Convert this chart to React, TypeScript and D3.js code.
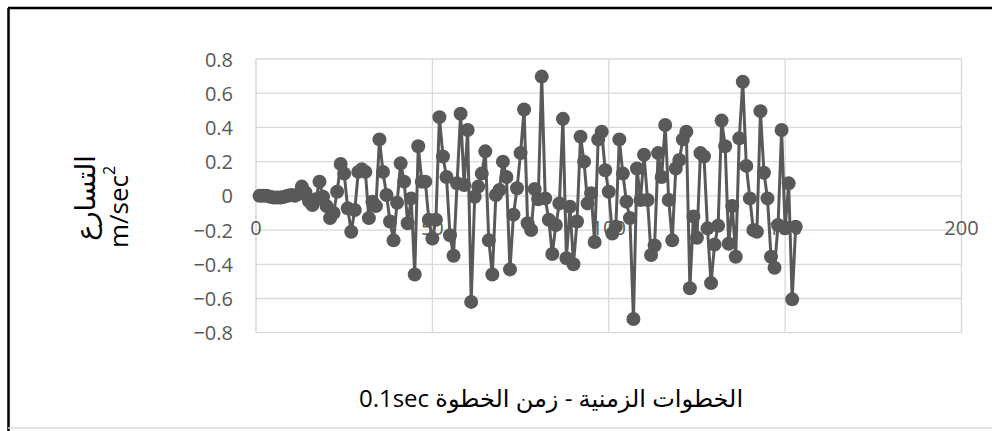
import React from "react";
import * as d3 from "d3";

// Acceleration per time step (m/sec²), one value per 0.1 sec step starting at step 1
const acceleration: number[] = [
  0, 0, 0, -0.005, -0.01, -0.01, -0.01, -0.005, 0, 0.005,
  0, 0.01, 0.054, 0.02, -0.03, -0.054, -0.02, 0.083, -0.005, -0.06,
  -0.13, -0.1, 0.024, 0.186, 0.13, -0.073, -0.21, -0.083, 0.14, 0.155,
  0.14, -0.13, -0.034, -0.06, 0.33, 0.14, 0.005, -0.15, -0.26, -0.04,
  0.19, 0.083, -0.16, -0.015, -0.46, 0.29, 0.083, 0.083, -0.14, -0.25,
  -0.14, 0.46, 0.23, 0.11, -0.23, -0.35, 0.073, 0.48, 0.063, 0.385,
  -0.62, -0.005, 0.054, 0.13, 0.26, -0.26, -0.46, 0.005, 0.034, 0.2,
  0.11, -0.43, -0.11, 0.044, 0.25, 0.505, -0.16, -0.2, 0.04, -0.02,
  0.697, -0.015, -0.14, -0.34, -0.17, -0.044, 0.45, -0.365, -0.063, -0.4,
  -0.15, 0.346, 0.2, -0.044, 0.015, -0.27, 0.33, 0.375, 0.15, 0.024,
  -0.22, -0.18, 0.33, 0.13, -0.034, -0.13, -0.72, 0.16, -0.024, 0.24,
  -0.024, -0.346, -0.29, 0.25, 0.11, 0.414, -0.024, -0.26, 0.16, 0.21,
  0.33, 0.375, -0.54, -0.12, -0.245, 0.25, 0.23, -0.19, -0.51, -0.285,
  -0.175, 0.44, 0.29, -0.28, -0.06, -0.356, 0.336, 0.667, 0.175, -0.015,
  -0.2, -0.21, 0.495, 0.135, -0.015, -0.356, -0.42, -0.17, 0.385, -0.19,
  0.073, -0.605, -0.18,
];

const xTicks: number[] = [0, 50, 100, 150, 200];
const yTicks: number[] = [-0.8, -0.6, -0.4, -0.2, 0, 0.2, 0.4, 0.6, 0.8];

const xTitle = "الخطوات الزمنية - زمن الخطوة 0.1sec";
const yTitleArabic = "التسارع";

const W = 992;
const H = 431;
const FONT = "'Open Sans', 'DejaVu Sans', sans-serif";
const INK = "#595959";
const GRID = "#d9d9d9";

export default function App() {
  const x = d3.scaleLinear().domain([0, 200]).range([256, 961.5]);
  const y = d3.scaleLinear().domain([-0.8, 0.8]).range([332.7, 59]);

  const points = acceleration.map((v, i) => ({ step: i + 1, v }));
  const line = d3
    .line<{ step: number; v: number }>()
    .x((d) => x(d.step))
    .y((d) => y(d.v));

  const [x0, x1] = x.range();
  const [yb, yt] = y.range();

  return (
    <svg
      width={W}
      height={H}
      style={{ position: "absolute", left: 0, top: 0, background: "#fff" }}
      fontFamily={FONT}
    >
      <rect x={0} y={0} width={W} height={H} fill="#fff" />
      {/* frame */}
      <line x1={8} y1={8} x2={W} y2={8} stroke="#000" strokeWidth={2.5} />
      <line x1={8.5} y1={8} x2={8.5} y2={H} stroke="#000" strokeWidth={2.5} />
      <line x1={8} y1={428} x2={W} y2={428} stroke={GRID} strokeWidth={1.5} />

      {/* horizontal gridlines */}
      {yTicks.map((t) => (
        <line key={"gy" + t} x1={x0} x2={x1} y1={y(t)} y2={y(t)} stroke={GRID} strokeWidth={1.3} />
      ))}
      {/* vertical gridlines */}
      {xTicks.map((t) => (
        <line
          key={"gx" + t}
          x1={x(t)}
          x2={x(t)}
          y1={yt}
          y2={yb}
          stroke={t === 0 ? "#cfcfcf" : GRID}
          strokeWidth={1.3}
        />
      ))}

      {/* y tick labels */}
      {yTicks.map((t) => (
        <text
          key={"ly" + t}
          x={233}
          y={y(t)}
          textAnchor="end"
          dominantBaseline="central"
          fontSize={20}
          fill={INK}
        >
          {d3.format("")(+t.toFixed(1))}
        </text>
      ))}

      {/* x tick labels, sitting just below the zero line */}
      {xTicks.map((t) => (
        <text
          key={"lx" + t}
          x={x(t)}
          y={y(0) + 32}
          textAnchor="middle"
          dominantBaseline="central"
          fontSize={20}
          fill={INK}
        >
          {t}
        </text>
      ))}

      {/* series */}
      <path d={line(points) ?? ""} fill="none" stroke={INK} strokeWidth={3} strokeLinejoin="round" />
      {points.map((d) => (
        <circle key={d.step} cx={x(d.step)} cy={y(d.v)} r={7} fill={INK} />
      ))}

      {/* axis titles */}
      <text
        x={551}
        y={397}
        textAnchor="middle"
        dominantBaseline="central"
        fontSize={24}
        fill="#000"
        direction="rtl"
      >
        {xTitle}
      </text>
      <g transform="translate(84,198) rotate(-90)">
        <text x={0} y={0} textAnchor="middle" dominantBaseline="central" fontSize={27} fill="#000">
          {yTitleArabic}
        </text>
      </g>
      <g transform="translate(118,207) rotate(-90)">
        <text x={0} y={0} textAnchor="middle" dominantBaseline="central" fontSize={26} fill="#000">
          m/sec
          <tspan fontSize={16} dy={-9}>
            2
          </tspan>
        </text>
      </g>
    </svg>
  );
}
